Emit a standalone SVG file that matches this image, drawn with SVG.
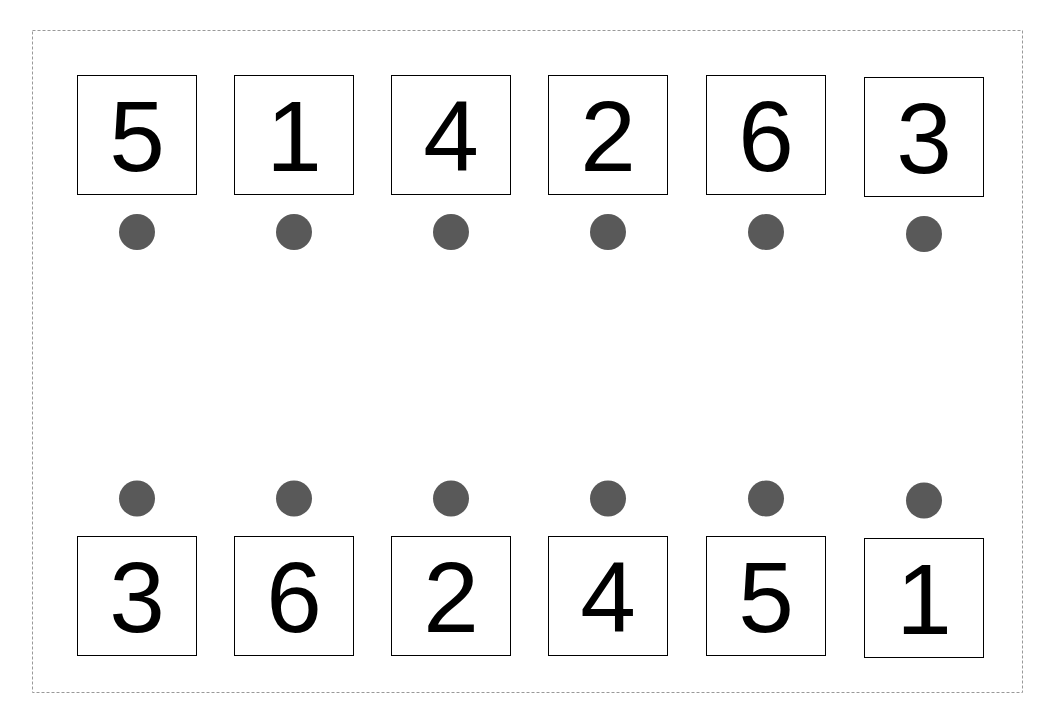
<svg xmlns="http://www.w3.org/2000/svg" width="1055" height="724" viewBox="0 0 1055 724">
<style>
.box{fill:#fff;stroke:#000;stroke-width:1}
.num{font-family:"Liberation Sans",Arial,sans-serif;font-size:100px;fill:#000;text-anchor:middle}
.dot{fill:#595959}
.frame{fill:none;stroke:#999;stroke-width:1;stroke-dasharray:3 2}
</style>
<rect width="1055" height="724" fill="#fff"/>
<rect class="frame" x="32.5" y="30.5" width="990" height="662"/>
<g id="top-row">
<g id="t1"><rect class="box" x="77.5" y="75.5" width="119" height="119"/><text class="num" x="137" y="170.8">5</text></g>
<g id="t2"><rect class="box" x="234.5" y="75.5" width="119" height="119"/><text class="num" x="294" y="170.8">1</text></g>
<g id="t3"><rect class="box" x="391.5" y="75.5" width="119" height="119"/><text class="num" x="451" y="170.8">4</text></g>
<g id="t4"><rect class="box" x="548.5" y="75.5" width="119" height="119"/><text class="num" x="608" y="170.8">2</text></g>
<g id="t5"><rect class="box" x="706.5" y="75.5" width="119" height="119"/><text class="num" x="766" y="170.8">6</text></g>
<g id="t6"><rect class="box" x="864.5" y="77.5" width="119" height="119"/><text class="num" x="924" y="172.8">3</text></g>
</g>
<g id="top-dots">
<circle id="td1" class="dot" cx="137" cy="232" r="18"/>
<circle id="td2" class="dot" cx="294" cy="232" r="18"/>
<circle id="td3" class="dot" cx="451" cy="232" r="18"/>
<circle id="td4" class="dot" cx="608" cy="232" r="18"/>
<circle id="td5" class="dot" cx="766" cy="232" r="18"/>
<circle id="td6" class="dot" cx="924" cy="234" r="18"/>
</g>
<g id="bottom-dots">
<circle id="bd1" class="dot" cx="137" cy="498.5" r="18"/>
<circle id="bd2" class="dot" cx="294" cy="498.5" r="18"/>
<circle id="bd3" class="dot" cx="451" cy="498.5" r="18"/>
<circle id="bd4" class="dot" cx="608" cy="498.5" r="18"/>
<circle id="bd5" class="dot" cx="766" cy="498.5" r="18"/>
<circle id="bd6" class="dot" cx="924" cy="500.5" r="18"/>
</g>
<g id="bottom-row">
<g id="b1"><rect class="box" x="77.5" y="536.5" width="119" height="119"/><text class="num" x="137" y="631.8">3</text></g>
<g id="b2"><rect class="box" x="234.5" y="536.5" width="119" height="119"/><text class="num" x="294" y="631.8">6</text></g>
<g id="b3"><rect class="box" x="391.5" y="536.5" width="119" height="119"/><text class="num" x="451" y="631.8">2</text></g>
<g id="b4"><rect class="box" x="548.5" y="536.5" width="119" height="119"/><text class="num" x="608" y="631.8">4</text></g>
<g id="b5"><rect class="box" x="706.5" y="536.5" width="119" height="119"/><text class="num" x="766" y="631.8">5</text></g>
<g id="b6"><rect class="box" x="864.5" y="538.5" width="119" height="119"/><text class="num" x="924" y="633.8">1</text></g>
</g>
<g id="connectors"></g>
</svg>
